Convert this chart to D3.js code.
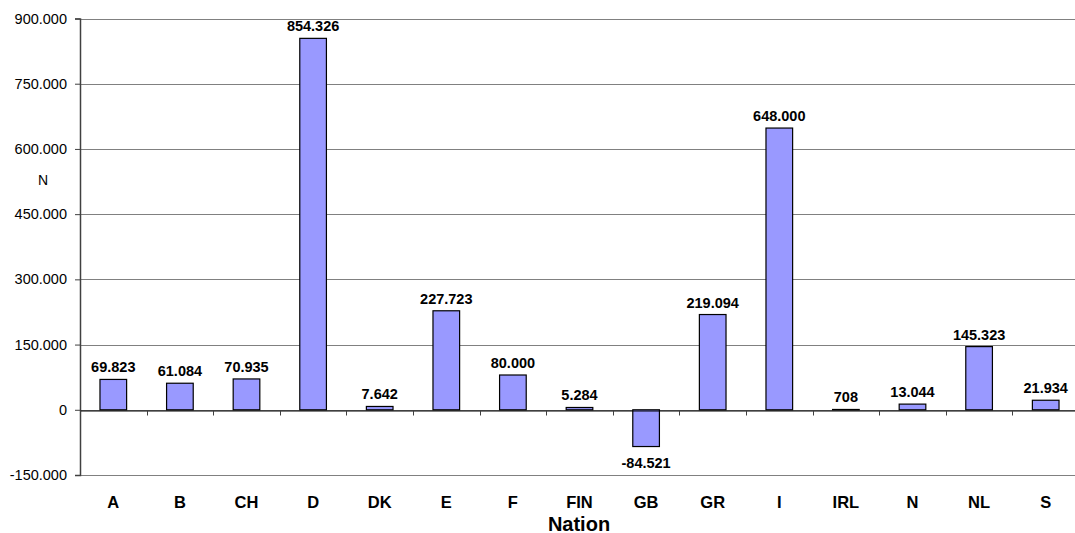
<!DOCTYPE html>
<html><head><meta charset="utf-8">
<script src="https://cdn.jsdelivr.net/npm/d3@7"></script>
<style>body{margin:0;background:#fff}svg{display:block;font-family:"Liberation Sans",Arial,sans-serif}</style>
</head><body>
<svg id="c" width="1075" height="533"></svg>
<script>
const categories = ["A","B","CH","D","DK","E","F","FIN","GB","GR","I","IRL","N","NL","S"];
const values = [69823,61084,70935,854326,7642,227723,80000,5284,-84521,219094,648000,708,13044,145323,21934];
const yTicks = [-150000,0,150000,300000,450000,600000,750000,900000];
const xTitle = "Nation";
const yTitle = "N";

const svg = d3.select("#c");
const L = 80, R = 1079, T = 18.5, B = 475;
const x = d3.scaleBand().domain(categories).range([L, R]).paddingInner(0.6).paddingOuter(0.3);
const y = d3.scaleLinear().domain([-150000, 900000]).range([B, T]);
const fmt = v => d3.format(",")(v).replace(/,/g, ".").replace("\u2212", "-");

// gridlines
svg.append("g").selectAll("line").data(yTicks).join("line")
  .attr("x1", L).attr("x2", R)
  .attr("y1", d => Math.round(y(d)) + 0.5).attr("y2", d => Math.round(y(d)) + 0.5)
  .attr("stroke", "#808080").attr("stroke-width", 1.2);

// y axis
const yAxis = d3.axisLeft(y).tickValues(yTicks).tickSize(5).tickPadding(8).tickFormat(fmt);
const gy = svg.append("g").attr("transform", `translate(${L},0)`).call(yAxis);
gy.select(".domain").attr("stroke", "#404040").attr("stroke-width", 1.5);
gy.selectAll(".tick line").attr("stroke", "#404040");
gy.selectAll(".tick text").attr("font-size", 14.5).attr("fill", "#000")
  .attr("font-family", "Liberation Sans, Arial, sans-serif");

// bars
svg.append("g").selectAll("rect").data(values).join("rect")
  .attr("x", (d, i) => x(categories[i]))
  .attr("width", x.bandwidth())
  .attr("y", d => y(Math.max(0, d)))
  .attr("height", d => Math.abs(y(d) - y(0)))
  .attr("fill", "#9999FF").attr("stroke", "#000").attr("stroke-width", 1.2);

// x axis at zero
const xAxis = d3.axisBottom(x).tickSize(0).tickFormat("");
const gx = svg.append("g").attr("transform", `translate(0,${Math.round(y(0)) + 0.5})`).call(xAxis);
gx.select(".domain").attr("stroke", "#000").attr("stroke-width", 1);
// category boundary ticks
gx.append("g").selectAll("line").data(categories).join("line")
  .attr("x1", (d) => Math.round(x(d) - x.step() * x.paddingInner() / 2) + 0.5)
  .attr("x2", (d) => Math.round(x(d) - x.step() * x.paddingInner() / 2) + 0.5)
  .attr("y1", 0).attr("y2", 5).attr("stroke", "#404040");

// category labels
svg.append("g").selectAll("text").data(categories).join("text")
  .attr("x", d => x(d) + x.bandwidth() / 2).attr("y", 508)
  .attr("text-anchor", "middle").attr("font-size", 16.5).attr("font-weight", "bold").text(d => d);

// value labels
svg.append("g").selectAll("text").data(values).join("text")
  .attr("x", (d, i) => x(categories[i]) + x.bandwidth() / 2)
  .attr("y", d => d >= 0 ? y(d) - 7 : y(d) + 21)
  .attr("text-anchor", "middle").attr("font-size", 14.5).attr("font-weight", "bold")
  .text(d => fmt(d));

// titles
svg.append("text").attr("x", 579).attr("y", 530.5).attr("text-anchor", "middle")
  .attr("font-size", 20).attr("font-weight", "bold").text(xTitle);
svg.append("text").attr("x", 43).attr("y", 185).attr("text-anchor", "middle")
  .attr("font-size", 14).text(yTitle);
</script>
</body></html>
